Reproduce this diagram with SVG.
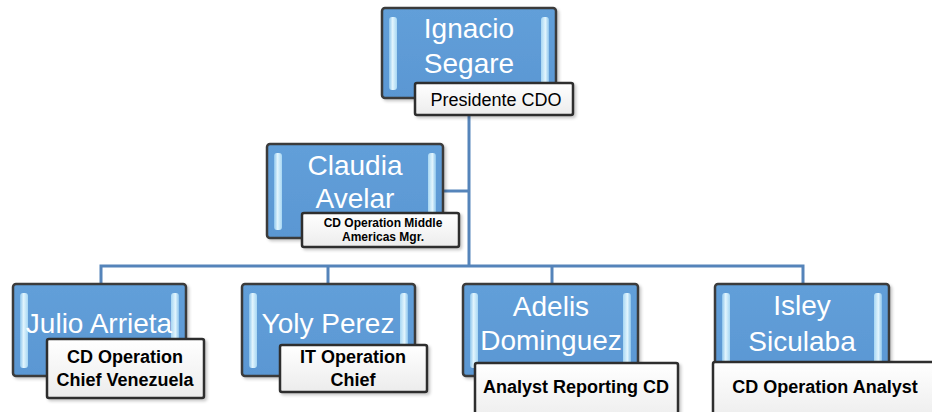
<svg xmlns="http://www.w3.org/2000/svg" width="932" height="412" viewBox="0 0 932 412">
<defs>
<linearGradient id="boxFill" x1="0" y1="0" x2="0" y2="1">
<stop offset="0" stop-color="#629fd9"/>
<stop offset="1" stop-color="#5a97d3"/>
</linearGradient>
<linearGradient id="bevelL" x1="0" y1="0" x2="1" y2="0">
<stop offset="0" stop-color="#8cc4ec"/>
<stop offset="0.45" stop-color="#e2f5fd"/>
<stop offset="1" stop-color="#a6d6f3"/>
</linearGradient>
<linearGradient id="bevelR" x1="1" y1="0" x2="0" y2="0">
<stop offset="0" stop-color="#8cc4ec"/>
<stop offset="0.45" stop-color="#e2f5fd"/>
<stop offset="1" stop-color="#a6d6f3"/>
</linearGradient>
<linearGradient id="labFill" x1="0" y1="0" x2="0" y2="1">
<stop offset="0" stop-color="#ffffff"/>
<stop offset="1" stop-color="#ececec"/>
</linearGradient>
<filter id="sh" x="-10%" y="-10%" width="130%" height="130%">
<feDropShadow dx="2" dy="2" stdDeviation="1.5" flood-color="#000" flood-opacity="0.22"/>
</filter>
</defs>
<style>
.box{fill:url(#boxFill);stroke:#3b3b3b;stroke-width:2.5;filter:url(#sh)}
.bl{fill:url(#bevelL)}
.br{fill:url(#bevelR)}
.lab{fill:url(#labFill);stroke:#2e2e2e;stroke-width:2.5;filter:url(#sh)}
.nm{font-family:"Liberation Sans",Arial,sans-serif;font-size:28px;fill:#ffffff;text-anchor:middle}
.lt{font-family:"Liberation Sans",Arial,sans-serif;fill:#000000;text-anchor:middle}
.b18{font-size:18px;font-weight:bold}
.n18{font-size:18px}
.b12{font-size:12px;font-weight:bold}
.conn{fill:none;stroke:#5584ba;stroke-width:3}
</style>

<g id="connectors">
<path class="conn" d="M469 115 V266"/>
<path class="conn" d="M443 191 H469"/>
<path class="conn" d="M101 284 V266 H803 V284"/>
<path class="conn" d="M328 266 V284"/>
<path class="conn" d="M552 266 V284"/>
</g>

<g id="ignacio">
<rect class="box" x="382" y="8" width="174" height="90" rx="3"/>
<rect class="bl" x="389" y="17" width="8" height="73" rx="3"/>
<rect class="br" x="541" y="17" width="8" height="73" rx="3"/>
<text class="nm" x="469" y="38">Ignacio</text>
<text class="nm" x="469" y="73">Segare</text>
<rect class="lab" x="415" y="83" width="158" height="32" rx="2"/>
<text class="lt n18" x="496" y="106">Presidente CDO</text>
</g>

<g id="claudia">
<rect class="box" x="267" y="144" width="176" height="94" rx="3"/>
<rect class="bl" x="274" y="153" width="8" height="77" rx="3"/>
<rect class="br" x="428" y="153" width="8" height="77" rx="3"/>
<text class="nm" x="355" y="175">Claudia</text>
<text class="nm" x="355" y="208">Avelar</text>
<rect class="lab" x="302" y="213" width="157" height="34" rx="2"/>
<text class="lt b12" x="383" y="227">CD Operation Middle</text>
<text class="lt b12" x="383" y="241">Americas Mgr.</text>
</g>

<g id="julio">
<rect class="box" x="13" y="284" width="173" height="92" rx="3"/>
<rect class="bl" x="20" y="293" width="8" height="75" rx="3"/>
<rect class="br" x="171" y="293" width="8" height="75" rx="3"/>
<text class="nm" x="99" y="333">Julio Arrieta</text>
<rect class="lab" x="47" y="339" width="157" height="59" rx="2"/>
<text class="lt b18" x="125" y="363">CD Operation</text>
<text class="lt b18" x="125" y="386">Chief Venezuela</text>
</g>

<g id="yoly">
<rect class="box" x="242" y="284" width="173" height="92" rx="3"/>
<rect class="bl" x="249" y="293" width="8" height="75" rx="3"/>
<rect class="br" x="400" y="293" width="8" height="75" rx="3"/>
<text class="nm" x="328" y="333">Yoly Perez</text>
<rect class="lab" x="280" y="345" width="147" height="47" rx="2"/>
<text class="lt b18" x="353" y="363">IT Operation</text>
<text class="lt b18" x="353" y="386">Chief</text>
</g>

<g id="adelis">
<rect class="box" x="463" y="284" width="175" height="92" rx="3"/>
<rect class="bl" x="470" y="293" width="8" height="75" rx="3"/>
<rect class="br" x="623" y="293" width="8" height="75" rx="3"/>
<text class="nm" x="551" y="316">Adelis</text>
<text class="nm" x="551" y="350">Dominguez</text>
<rect class="lab" x="475" y="363" width="203" height="60" rx="2"/>
<text class="lt b18" x="576" y="393">Analyst Reporting CD</text>
</g>

<g id="isley">
<rect class="box" x="715" y="284" width="174" height="92" rx="3"/>
<rect class="bl" x="722" y="293" width="8" height="75" rx="3"/>
<rect class="br" x="874" y="293" width="8" height="75" rx="3"/>
<text class="nm" x="802" y="315">Isley</text>
<text class="nm" x="802" y="351">Siculaba</text>
<rect class="lab" x="713" y="362" width="226" height="60" rx="2"/>
<text class="lt b18" x="825" y="393">CD Operation Analyst</text>
</g>
</svg>
